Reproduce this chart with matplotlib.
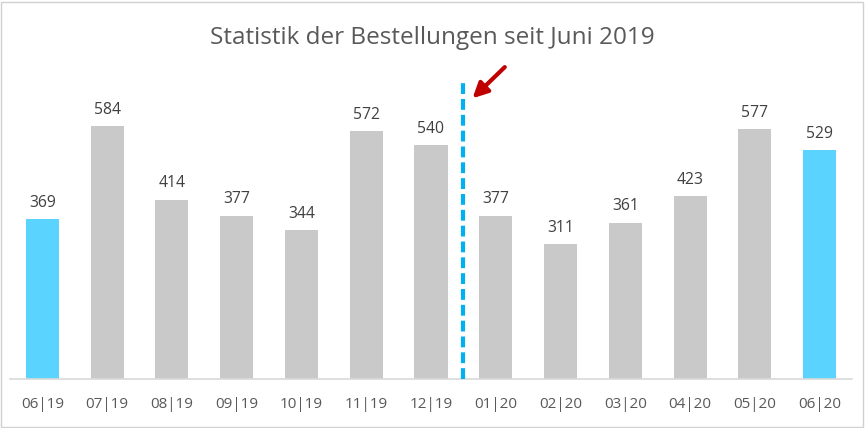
import matplotlib.pyplot as plt
from matplotlib.patches import Rectangle

# Daten
monate = ['06|19', '07|19', '08|19', '09|19', '10|19', '11|19', '12|19',
          '01|20', '02|20', '03|20', '04|20', '05|20', '06|20']
bestellungen = [369, 584, 414, 377, 344, 572, 540, 377, 311, 361, 423, 577, 529]
hervorgehoben = ['06|19', '06|20']

farbe_grau = '#C9C9C9'
farbe_blau = '#5BD3FF'

plt.rcParams['font.family'] = ['Open Sans', 'DejaVu Sans']

fig = plt.figure(figsize=(8.65, 4.28), dpi=100)
ax = fig.add_axes([10 / 865, 49 / 428, 842 / 865, 303 / 428])

x = list(range(len(monate)))
farben = [farbe_blau if m in hervorgehoben else farbe_grau for m in monate]
bars = ax.bar(x, bestellungen, width=0.51, color=farben, zorder=2)

# Werte über den Balken
for xi, v in zip(x, bestellungen):
    ax.annotate(str(v), (xi, v), xytext=(0, 6), textcoords='offset points',
                ha='center', va='bottom', fontsize=11.3, color='#404040')

# Trennlinie zwischen 2019 und 2020
ax.plot([6.5, 6.5], [0, 690], color='#00B0F0', lw=3, ls=(0, (2.6, 1.2)), zorder=3)

# Pfeil
ax.annotate('', xy=(6.61, 644), xytext=(7.17, 725),
            arrowprops=dict(arrowstyle='-|>,head_length=0.9,head_width=0.45',
                            color='#C00000', lw=3),
            annotation_clip=False)

ax.set_xlim(-0.5, len(monate) - 0.5)
ax.set_ylim(0, 700)
ax.set_xticks(x)
ax.set_xticklabels(monate, fontsize=11, color='#595959')
ax.tick_params(axis='x', length=0, pad=13)
ax.set_yticks([])
for s in ['top', 'left', 'right']:
    ax.spines[s].set_visible(False)
ax.spines['bottom'].set_color('#D9D9D9')
ax.spines['bottom'].set_linewidth(1.2)

fig.text(0.5, 1 - 38 / 428, 'Statistik der Bestellungen seit Juni 2019',
         ha='center', va='center', fontsize=17.5, color='#595959')

# Rahmen
fig.patches.append(Rectangle((1 / 865, 1 / 428), 862 / 865, 425 / 428,
                             transform=fig.transFigure, fill=False,
                             edgecolor='#D0D0D0', lw=1))

fig.savefig('out.png', dpi=100)
